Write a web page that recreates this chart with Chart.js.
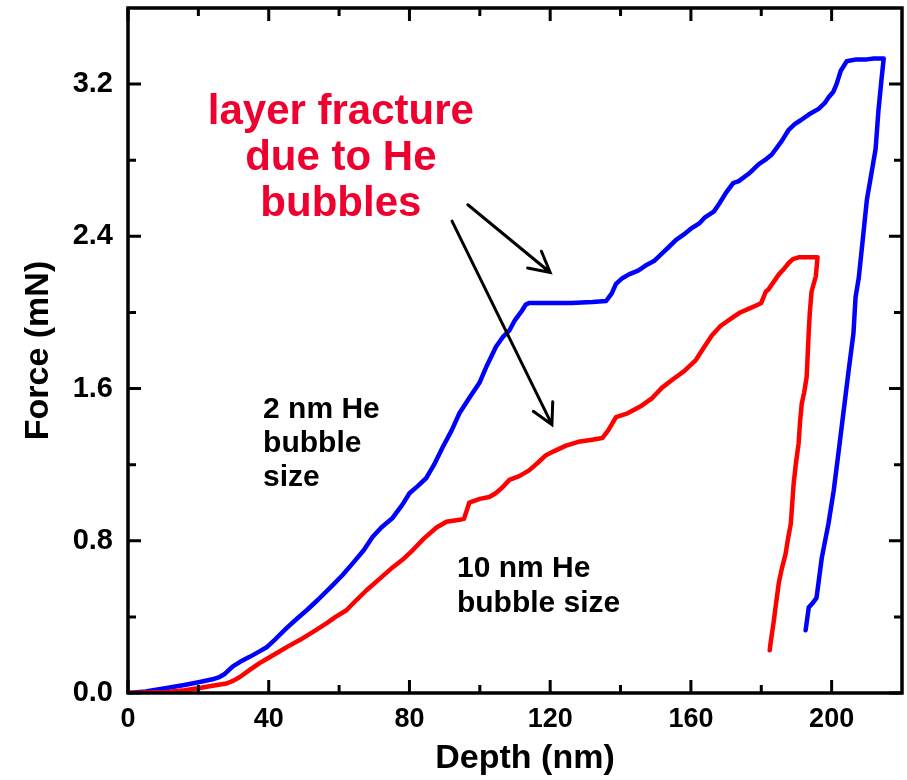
<!DOCTYPE html>
<html>
<head>
<meta charset="utf-8">
<script src="https://cdn.jsdelivr.net/npm/chart.js@4.4.1/dist/chart.umd.min.js"></script>
<style>
  html, body { margin: 0; padding: 0; background: #fff; }
</style>
</head>
<body>
<canvas id="forceChart" width="907" height="780"></canvas>
<script>
// Load-depth curves, depth in nm, force in mN
const depth2nm = [
  0, 5, 11, 16, 20.4, 24, 26, 27.5, 29.8, 32,
  34.6, 37, 39.4, 42, 45, 48, 50.8, 54, 58.2, 61,
  63.8, 67, 69.5, 72, 75.2, 78, 80, 82.5, 84.8, 87,
  89.4, 92, 94.2, 97, 99.9, 102, 104.6, 106.5, 108.4, 110,
  112, 113, 114, 120, 126, 132, 135.9, 137.5, 138.7, 140.5,
  142.4, 145, 147, 149.5, 151.8, 153.5, 155.7, 158, 160, 162.5,
  164, 166.5, 168, 170, 172, 173.6, 176.5, 179.3, 181, 183,
  185.8, 187.8, 189.5, 191.2, 193.5, 196.3, 198, 199.1, 200.5, 201.4,
  202.6, 204.3, 207, 210, 212, 214.8, 214.2, 213.3, 212.5, 211.3,
  210, 209, 207.7, 206.8, 206.2, 204.8, 203.4, 202, 200.6, 199.1,
  197.2, 195.7, 194.5, 193.5, 192.6
];
const force2nm = [
  0, 0.008, 0.026, 0.042, 0.058, 0.072, 0.084, 0.1, 0.14, 0.165,
  0.19, 0.215, 0.24, 0.285, 0.34, 0.39, 0.435, 0.49, 0.567, 0.62,
  0.68, 0.75, 0.82, 0.87, 0.92, 0.99, 1.05, 1.09, 1.13, 1.2,
  1.29, 1.38, 1.47, 1.55, 1.63, 1.72, 1.82, 1.87, 1.905, 1.96,
  2.01, 2.04, 2.05, 2.05, 2.05, 2.055, 2.06, 2.1, 2.15, 2.18,
  2.2, 2.22, 2.245, 2.27, 2.31, 2.34, 2.38, 2.41, 2.44, 2.47,
  2.5, 2.53, 2.57, 2.63, 2.68, 2.69, 2.73, 2.78, 2.8, 2.83,
  2.9, 2.96, 2.99, 3.01, 3.04, 3.07, 3.1, 3.13, 3.16, 3.2,
  3.27, 3.32, 3.33, 3.33, 3.335, 3.335, 3.23, 3.06, 2.86, 2.73,
  2.59, 2.41, 2.18, 2.08, 1.89, 1.69, 1.48, 1.27, 1.065, 0.89,
  0.71, 0.5, 0.47, 0.45, 0.33
];

const depth10nm = [
  0, 5, 11, 16, 20.4, 24, 28, 30, 31.8, 34.5,
  37.4, 40, 42.3, 45.5, 48.8, 52.5, 56.5, 59, 62.1, 65,
  67.8, 71.5, 75.2, 78, 80.9, 84, 87.7, 90.5, 94.2, 95.5,
  97, 100, 102.7, 104.5, 106.4, 108.4, 111.2, 114, 116.5, 118.8,
  121, 124.5, 128, 131.5, 134.8, 136.5, 138.7, 142, 146, 149,
  151.8, 155, 158, 161.4, 163.5, 166, 168.5, 171.6, 174, 176.5,
  178.4, 180, 181.3, 182, 183.5, 185, 186.5, 187.8, 189, 190.6,
  193, 196, 195.5, 194.3, 193.8, 193.5, 193.2, 192.9, 192.2, 191.5,
  191, 190.6, 189.8, 189.2, 188.4, 187.5, 186.9, 185.8, 185, 184.2,
  183.5, 182.7, 182.4
];
const force10nm = [
  0, 0.002, 0.005, 0.014, 0.026, 0.038, 0.05, 0.065, 0.084, 0.12,
  0.157, 0.185, 0.21, 0.245, 0.278, 0.32, 0.367, 0.4, 0.435, 0.49,
  0.54, 0.6, 0.66, 0.7, 0.75, 0.81, 0.87, 0.9, 0.91, 0.915,
  1.0, 1.02, 1.03, 1.05, 1.08, 1.12, 1.14, 1.17, 1.21, 1.25,
  1.27, 1.3, 1.32, 1.33, 1.34, 1.38, 1.45, 1.47, 1.51, 1.55,
  1.605, 1.65, 1.69, 1.75, 1.81, 1.88, 1.93, 1.97, 2.0, 2.02,
  2.035, 2.05, 2.11, 2.12, 2.16, 2.2, 2.23, 2.26, 2.28, 2.29,
  2.29, 2.29, 2.19, 2.11, 2.0, 1.9, 1.78, 1.66, 1.58, 1.52,
  1.42, 1.31, 1.2, 1.1, 0.89, 0.8, 0.73, 0.65, 0.58, 0.47,
  0.37, 0.27, 0.225
];

// Axis ticks
const xMajor = [0, 40, 80, 120, 160, 200];
const xMinor = [20, 60, 100, 140, 180];
const yMajor = [0, 0.8, 1.6, 2.4, 3.2];
const yMinor = [0.4, 1.2, 2.0, 2.8];

// Callouts, anchored in data units
const fractureLines = ['layer fracture', 'due to He', 'bubbles'];
const label2nmLines = ['2 nm He', 'bubble', 'size'];
const label10nmLines = ['10 nm He', 'bubble size'];
const arrows = [
  { from: [96.6, 2.566], to: [120.0, 2.21] },
  { from: [92.1, 2.48], to: [120.5, 1.41] }
];

const FONT = '"Liberation Sans", Arial, sans-serif';

function toPoints(xs, ys) {
  return xs.map((v, i) => ({ x: v, y: ys[i] }));
}

// frame box with inward ticks on all four sides, plus callouts
const framePlugin = {
  id: 'frame',
  afterDatasetsDraw(chart) {
    const { ctx, chartArea: a, scales: { x, y } } = chart;
    ctx.save();
    ctx.strokeStyle = '#000';
    ctx.lineWidth = 3;
    ctx.beginPath();
    const tx = (v, len) => {
      const p = x.getPixelForValue(v);
      ctx.moveTo(p, a.bottom); ctx.lineTo(p, a.bottom - len);
      ctx.moveTo(p, a.top); ctx.lineTo(p, a.top + len);
    };
    const ty = (v, len) => {
      const p = y.getPixelForValue(v);
      ctx.moveTo(a.left, p); ctx.lineTo(a.left + len, p);
      ctx.moveTo(a.right, p); ctx.lineTo(a.right - len, p);
    };
    xMajor.forEach(v => tx(v, 13));
    xMinor.forEach(v => tx(v, 8));
    yMajor.forEach(v => ty(v, 13));
    yMinor.forEach(v => ty(v, 8));
    ctx.stroke();
    ctx.lineWidth = 3.5;
    ctx.strokeRect(a.left, a.top, a.right - a.left, a.bottom - a.top);
    ctx.restore();
  },
  afterDraw(chart) {
    const { ctx, chartArea: a, scales: { x, y } } = chart;
    ctx.save();

    // x axis title
    ctx.fillStyle = '#000';
    ctx.font = 'bold 34px ' + FONT;
    ctx.textAlign = 'center';
    ctx.textBaseline = 'middle';
    ctx.fillText('Depth (nm)', (a.left + a.right) / 2 + 10, 759);

    // red callout
    ctx.fillStyle = '#f0002e';
    ctx.font = 'bold 42px ' + FONT;
    ctx.textBaseline = 'alphabetic';
    let cx = x.getPixelForValue(60.5), cy = y.getPixelForValue(2.99);
    fractureLines.forEach((t, i) => ctx.fillText(t, cx, cy + i * 46));

    // series labels
    ctx.fillStyle = '#000';
    ctx.font = 'bold 30px ' + FONT;
    ctx.textAlign = 'left';
    cx = x.getPixelForValue(38.4); cy = y.getPixelForValue(1.443);
    label2nmLines.forEach((t, i) => ctx.fillText(t, cx, cy + i * 34));
    cx = x.getPixelForValue(93.5); cy = y.getPixelForValue(0.609);
    label10nmLines.forEach((t, i) => ctx.fillText(t, cx, cy + i * 35));

    // arrows
    ctx.strokeStyle = '#000';
    ctx.lineWidth = 3;
    ctx.lineCap = 'round';
    arrows.forEach(ar => {
      const x0 = x.getPixelForValue(ar.from[0]), y0 = y.getPixelForValue(ar.from[1]);
      const x1 = x.getPixelForValue(ar.to[0]), y1 = y.getPixelForValue(ar.to[1]);
      const ang = Math.atan2(y1 - y0, x1 - x0);
      const head = 23, spread = 0.49;
      ctx.beginPath();
      ctx.moveTo(x0, y0); ctx.lineTo(x1, y1);
      ctx.moveTo(x1 - head * Math.cos(ang - spread), y1 - head * Math.sin(ang - spread));
      ctx.lineTo(x1, y1);
      ctx.lineTo(x1 - head * Math.cos(ang + spread), y1 - head * Math.sin(ang + spread));
      ctx.stroke();
    });
    ctx.restore();
  }
};

const ctx = document.getElementById('forceChart').getContext('2d');
new Chart(ctx, {
  type: 'scatter',
  data: {
    datasets: [
      {
        label: '10 nm He bubble size',
        data: toPoints(depth10nm, force10nm),
        showLine: true,
        borderColor: '#ff0000',
        borderWidth: 4.5,
        pointRadius: 0,
        tension: 0,
        borderJoinStyle: 'round',
        borderCapStyle: 'round'
      },
      {
        label: '2 nm He bubble size',
        data: toPoints(depth2nm, force2nm),
        showLine: true,
        borderColor: '#0000ff',
        borderWidth: 4.5,
        pointRadius: 0,
        tension: 0,
        borderJoinStyle: 'round',
        borderCapStyle: 'round'
      }
    ]
  },
  options: {
    responsive: false,
    animation: false,
    layout: { padding: { left: 0, right: 5, top: 8, bottom: 0 } },
    plugins: {
      legend: { display: false },
      tooltip: { enabled: false }
    },
    scales: {
      x: {
        type: 'linear',
        min: 0,
        max: 220,
        grid: { display: false, drawTicks: false },
        border: { display: false },
        afterBuildTicks: s => { s.ticks = xMajor.map(v => ({ value: v })); },
        afterFit: s => {
          s.height = 87;
          s.paddingLeft = 0;
          s.paddingRight = 0;
        },
        ticks: {
          color: '#000',
          padding: 10,
          maxRotation: 0,
          font: { family: FONT, size: 27, weight: 'bold' },
          callback: v => String(v)
        }
      },
      y: {
        type: 'linear',
        min: 0,
        max: 3.6,
        grid: { display: false, drawTicks: false },
        border: { display: false },
        afterBuildTicks: s => { s.ticks = yMajor.map(v => ({ value: v })); },
        afterFit: s => {
          s.width = 128;
          s.paddingTop = 0;
          s.paddingBottom = 0;
        },
        ticks: {
          color: '#000',
          padding: 15,
          font: { family: FONT, size: 29, weight: 'bold' },
          callback: v => Number(v).toFixed(1)
        },
        title: {
          display: true,
          text: 'Force (mN)',
          color: '#000',
          padding: { top: 18, bottom: 0 },
          font: { family: FONT, size: 34, weight: 'bold' }
        }
      }
    }
  },
  plugins: [framePlugin]
});
</script>
</body>
</html>
